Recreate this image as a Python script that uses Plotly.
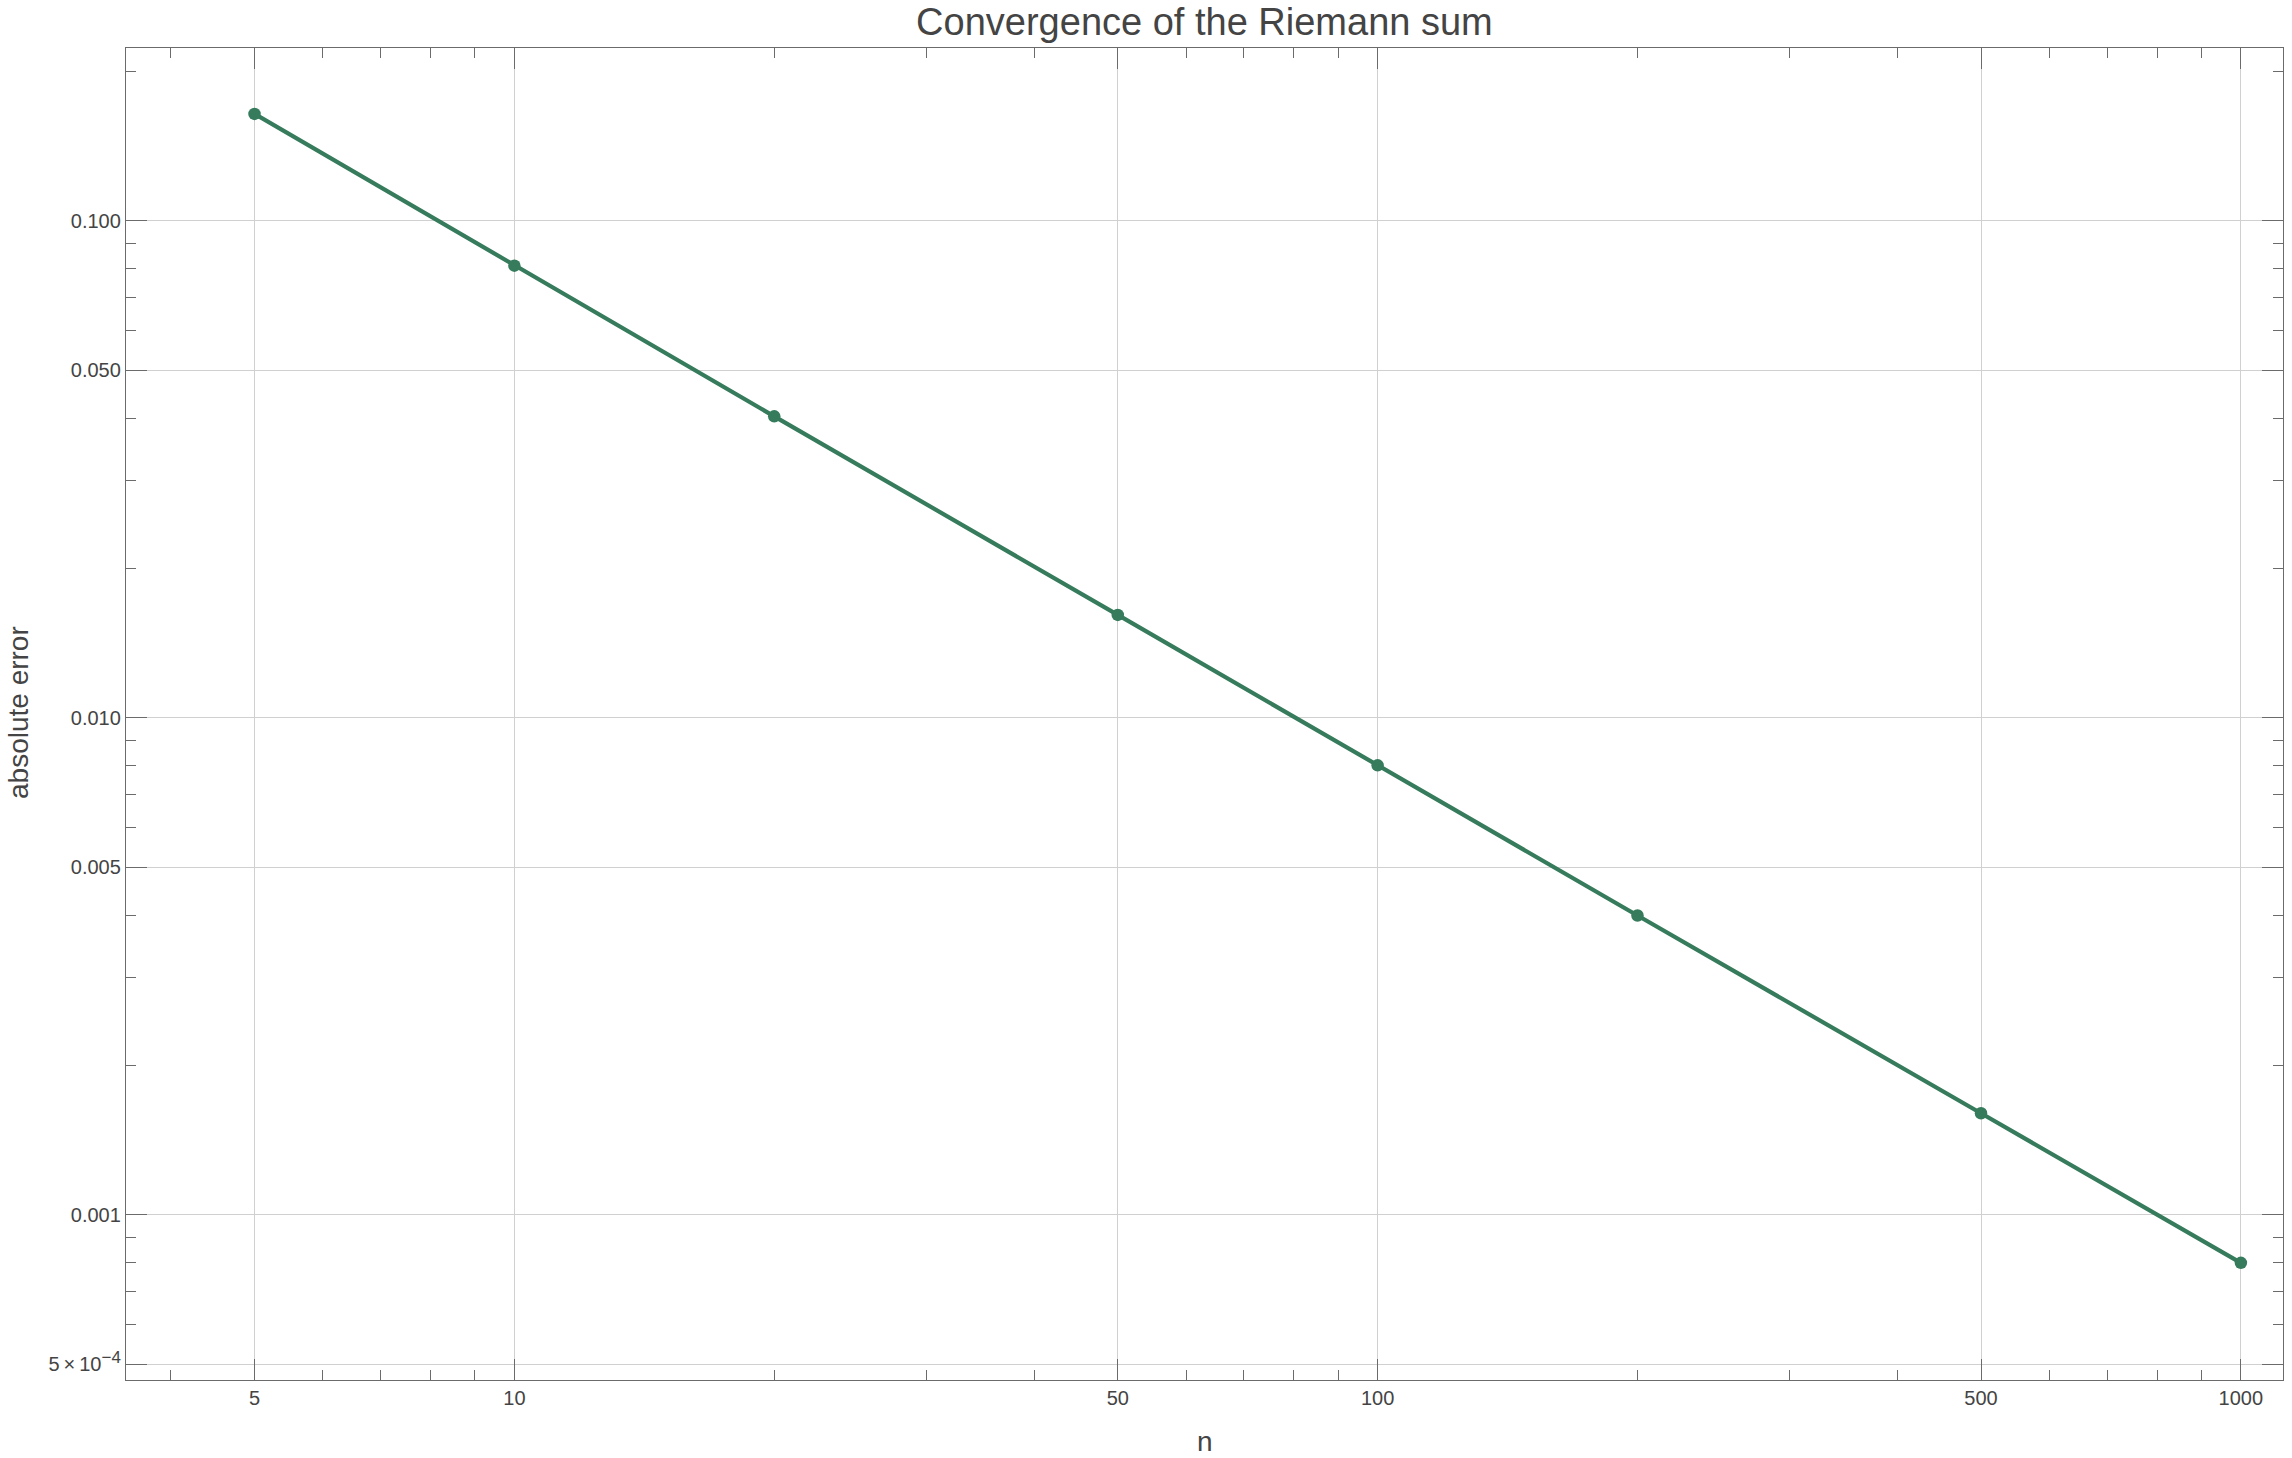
import numpy as np
import plotly.graph_objects as go

# Data
n_values = [5, 10, 20, 50, 100, 200, 500, 1000]
abs_error = [0.1640, 0.0812, 0.0404, 0.01610, 0.00802, 0.00400, 0.001600, 0.000800]

x_major = [5, 10, 50, 100, 500, 1000]
x_major_text = ["5", "10", "50", "100", "500", "1000"]
x_minor = [4, 6, 7, 8, 9, 20, 30, 40, 60, 70, 80, 90, 200, 300, 400, 600, 700, 800, 900]

y_major = [0.0005, 0.001, 0.005, 0.01, 0.05, 0.1]
y_major_text = ["5\u2009\u00d7\u200910<sup><span style='font-size:17px'>\u22124</span></sup>",
                "0.001", "0.005", "0.010", "0.050", "0.100"]
y_minor = [0.0006, 0.0007, 0.0008, 0.0009, 0.002, 0.003, 0.004, 0.006, 0.007, 0.008, 0.009,
           0.02, 0.03, 0.04, 0.06, 0.07, 0.08, 0.09, 0.2]

title_text = "Convergence of the Riemann sum"
x_title = "n"
y_title = "absolute error"

line_color = "#367b5b"
text_color = "#444444"
frame_color = "#6b6b6b"
grid_color = "#d0d0d0"
font_family = "Liberation Sans, Arial, sans-serif"

fig = go.Figure()
fig.add_trace(go.Scatter(
    x=n_values, y=abs_error, mode="lines+markers",
    line=dict(color=line_color, width=4.2),
    marker=dict(color=line_color, size=12.5),
    showlegend=False, hoverinfo="x+y",
))

axis_common = dict(
    type="log",
    showline=True, linecolor=frame_color, linewidth=1.3, mirror="ticks",
    ticks="inside", ticklen=21, tickwidth=1.2, tickcolor=frame_color,
    showgrid=True, gridcolor=grid_color, gridwidth=1,
    zeroline=False,
    tickfont=dict(family=font_family, size=20, color=text_color),
    tickmode="array",
)

fig.update_xaxes(
    **axis_common,
    range=[0.5501, 3.0488],
    tickvals=x_major, ticktext=x_major_text,
    minor=dict(tickmode="array", tickvals=x_minor, ticks="inside", ticklen=10,
               tickwidth=1.1, tickcolor=frame_color, showgrid=False),
)
fig.update_yaxes(
    **axis_common,
    range=[-3.3326, -0.6525],
    tickvals=y_major, ticktext=y_major_text,
    minor=dict(tickmode="array", tickvals=y_minor, ticks="inside", ticklen=10,
               tickwidth=1.1, tickcolor=frame_color, showgrid=False),
)

fig.update_layout(
    width=2292, height=1458,
    margin=dict(l=126, r=9, t=48, b=78),
    paper_bgcolor="white", plot_bgcolor="white",
    font=dict(family=font_family, color=text_color),
    title=dict(text=title_text, x=0.5255, xanchor="center", y=1 - 22 / 1458, yanchor="middle",
               font=dict(family=font_family, size=38, color=text_color)),
    annotations=[
        dict(text=x_title, xref="paper", yref="paper", x=0.5, y=-(1441 - 1380) / 1332,
             xanchor="center", yanchor="middle", showarrow=False,
             font=dict(family=font_family, size=28, color=text_color)),
        dict(text=y_title, xref="paper", yref="paper", x=-(126 - 18) / 2157, y=(1380 - 713) / 1332,
             xanchor="center", yanchor="middle", textangle=-90, showarrow=False,
             font=dict(family=font_family, size=28, color=text_color)),
    ],
)

fig.write_html("out.html")
